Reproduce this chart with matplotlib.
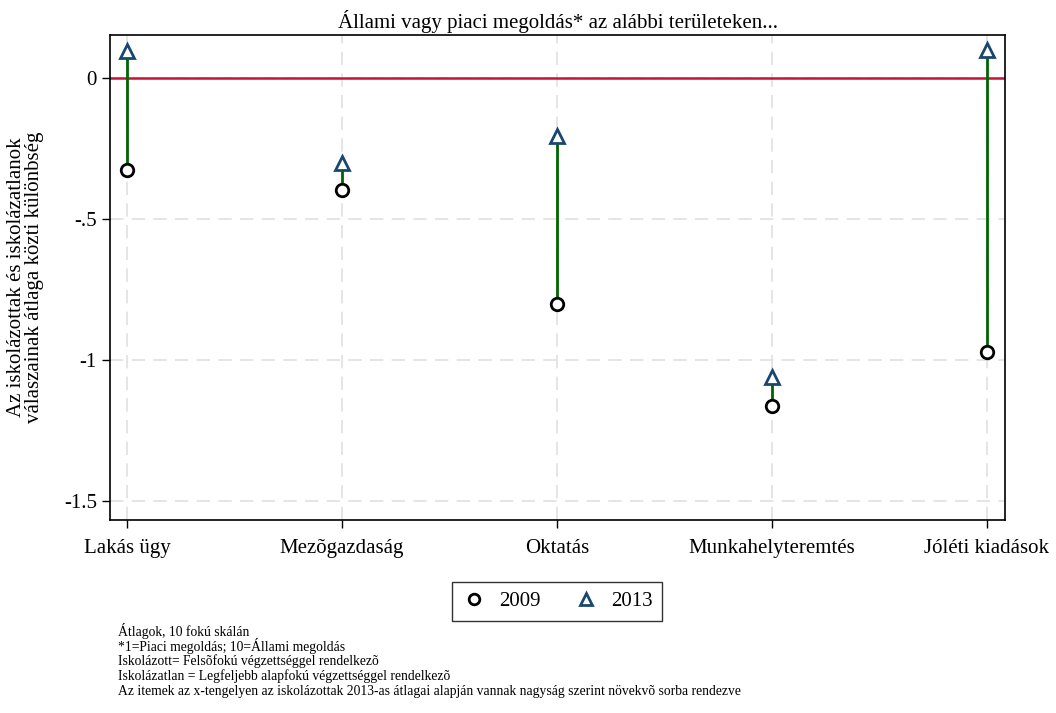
import matplotlib; matplotlib.use('Agg')
import matplotlib.pyplot as plt
import numpy as np

plt.rcParams['font.family'] = ['Liberation Serif', 'DejaVu Serif']

# data
categories = ['Lakás ügy', 'Mezõgazdaság', 'Oktatás', 'Munkahelyteremtés', 'Jóléti kiadások']
val_2009 = [-0.326, -0.397, -0.801, -1.163, -0.972]
val_2013 = [0.096, -0.301, -0.206, -1.060, 0.099]
yticks = [0, -0.5, -1, -1.5]
ytick_labels = ['0', '-.5', '-1', '-1.5']

notes = ['Átlagok, 10 fokú skálán',
         '*1=Piaci megoldás; 10=Állami megoldás',
         'Iskolázott= Felsõfokú végzettséggel rendelkezõ',
         'Iskolázatlan = Legfeljebb alapfokú végzettséggel rendelkezõ',
         'Az itemek az x-tengelyen az iskolázottak 2013-as átlagai alapján vannak nagyság szerint növekvõ sorba rendezve']

fig = plt.figure(figsize=(10.56, 7.13), dpi=100)
ax = fig.add_axes([110/1056, 1-520/713, 895/1056, 485/713])

x = np.arange(1, len(categories)+1)

# grid
for yt in yticks:
    ax.axhline(yt, color='#e0e0e0', lw=1.2, ls=(0, (8, 5)), zorder=0)
for xt in x:
    ax.axvline(xt, color='#e0e0e0', lw=1.2, ls=(0, (8, 5)), zorder=0)

ax.axhline(0, color='#c4143c', lw=1.8, zorder=1)
ax.vlines(x, val_2009, val_2013, color='#006400', lw=2, zorder=2)
ax.plot(x, val_2009, 'o', ms=9, mfc='white', mec='black', mew=2, ls='none', label='2009', zorder=3)
ax.plot(x, val_2013, '^', ms=10, mfc='white', mec='#1a476f', mew=2, ls='none', label='2013', zorder=3)

ax.set_xlim(0.921, 5.084)
ax.set_ylim(-1.567, 0.152)
ax.set_yticks(yticks)
ax.set_yticklabels(ytick_labels)
ax.set_xticks(x)
ax.set_xticklabels(categories)
ax.tick_params(axis='both', labelsize=15, length=6, width=1)
ax.tick_params(axis='x', pad=8)
for s in ax.spines.values():
    s.set_linewidth(1.2)

ax.set_title('Állami vagy piaci megoldás* az alábbi területeken...', fontsize=15, pad=5)
ax.set_ylabel('Az iskolázottak és iskolázatlanok\nválaszainak átlaga közti különbség', fontsize=15, labelpad=14, linespacing=0.95)

leg = ax.legend(loc='upper center', bbox_to_anchor=(557/1056, 1-572/713), bbox_transform=fig.transFigure,
                ncol=2, fontsize=15, frameon=True, fancybox=False, edgecolor='black',
                handlelength=1.2, handletextpad=0.6, columnspacing=1.6, borderpad=0.45, markerscale=0.85)
leg.get_frame().set_linewidth(1.0)

for i, t in enumerate(notes):
    fig.text(118/1056, 1-(631+i*15)/713, t, fontsize=9.8, va='center', ha='left')

fig.savefig('out.png', dpi=100)
